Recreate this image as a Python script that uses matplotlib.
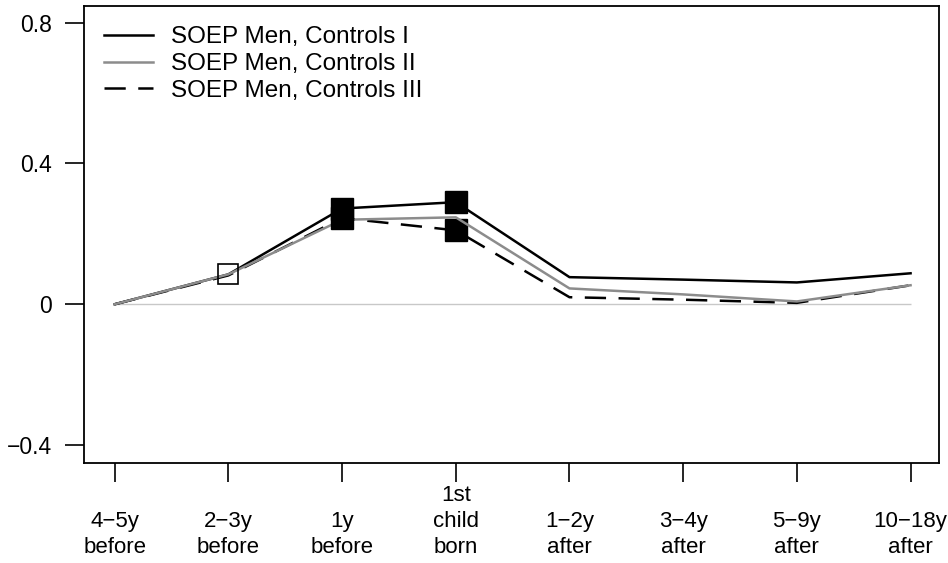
import matplotlib.pyplot as plt

plt.rcParams['font.family'] = ['Liberation Sans', 'DejaVu Sans']

# time relative to birth of the first child
periods = ['\n4\u22125y\nbefore', '\n2\u22123y\nbefore', '\n1y\nbefore', '1st\nchild\nborn',
           '\n1\u22122y\nafter', '\n3\u22124y\nafter', '\n5\u22129y\nafter', '\n10\u221218y\nafter']
controls_1 = [0.0, 0.085, 0.272, 0.290, 0.077, 0.070, 0.062, 0.088]
controls_2 = [0.0, 0.085, 0.240, 0.247, 0.045, 0.028, 0.008, 0.054]
controls_3 = [0.0, 0.082, 0.245, 0.210, 0.020, 0.013, 0.004, 0.054]
labels = ['SOEP Men, Controls I', 'SOEP Men, Controls II', 'SOEP Men, Controls III']

fig = plt.figure(figsize=(9.48, 5.63), dpi=100)
ax = fig.add_axes([0.0886, 0.1776, 0.9019, 0.8109])
x = list(range(len(periods)))

ax.hlines(0, 0, 7, color='#c8c8c8', lw=1.0, zorder=1)

l1, = ax.plot(x, controls_1, color='black', lw=1.8, zorder=3)
l3, = ax.plot(x, controls_3, color='black', lw=1.8, dashes=(8.5, 5), zorder=3)
# significance markers
ax.plot(x[2], controls_1[2], 's', ms=16, color='black', zorder=5)
ax.plot(x[2], controls_3[2], 's', ms=16, color='black', zorder=5)
ax.plot(x[3], controls_1[3], 's', ms=16.5, color='black', zorder=3)
ax.plot(x[3], controls_3[3], 's', ms=16.5, color='black', zorder=3)
ax.plot(x[1], controls_1[1], 's', ms=14.5, mfc='none', mec='black', mew=1.2, zorder=5)
l2, = ax.plot(x, controls_2, color='#8c8c8c', lw=1.8, zorder=4)

ax.set_xlim(-0.27, 7.25)
ax.set_ylim(-0.451, 0.846)
ax.set_yticks([-0.4, 0, 0.4, 0.8])
ax.set_yticklabels(['\u22120.4', '0', '0.4', '0.8'])
ax.set_xticks(x)
ax.set_xticklabels(periods, linespacing=1.3)
ax.tick_params(labelsize=16.5, length=14, width=1.2, direction='out')
ax.tick_params(axis='x', labelsize=16, pad=2)
ax.tick_params(axis='y', pad=9)
for s in ax.spines.values():
    s.set_linewidth(1.3)

ax.legend([l1, l2, l3], labels, loc='upper left', frameon=False, fontsize=17.5,
          handlelength=2.0, handletextpad=0.75, labelspacing=0.2,
          borderaxespad=0.0, bbox_to_anchor=(0.012, 0.978))

fig.savefig('out.png', dpi=100)
